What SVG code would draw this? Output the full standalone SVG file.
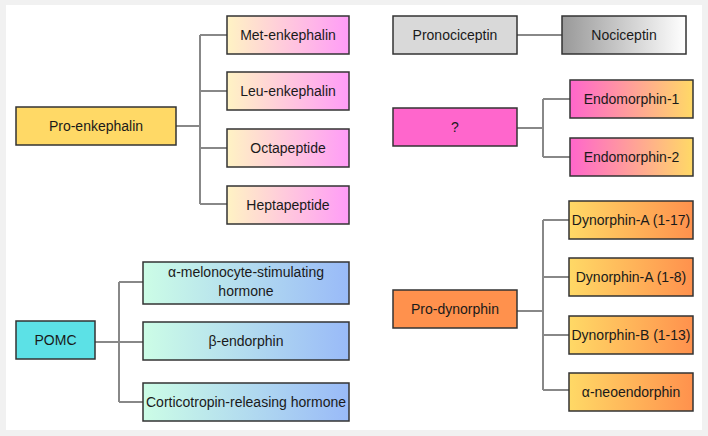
<svg xmlns="http://www.w3.org/2000/svg" width="708" height="436" viewBox="0 0 708 436">
<defs>
<linearGradient id="gEnk" x1="0" y1="0" x2="1" y2="0"><stop offset="0" stop-color="#fff3c4"/><stop offset="1" stop-color="#ff9cf7"/></linearGradient>
<linearGradient id="gNoc" x1="0" y1="0" x2="1" y2="0"><stop offset="0" stop-color="#999999"/><stop offset="1" stop-color="#ffffff"/></linearGradient>
<linearGradient id="gEndo" x1="0" y1="0" x2="1" y2="0"><stop offset="0" stop-color="#ff66cc"/><stop offset="1" stop-color="#ffd966"/></linearGradient>
<linearGradient id="gDyn" x1="0" y1="0" x2="1" y2="0"><stop offset="0" stop-color="#ffd966"/><stop offset="1" stop-color="#ff914d"/></linearGradient>
<linearGradient id="gPomc" x1="0" y1="0" x2="1" y2="0"><stop offset="0" stop-color="#ccfde6"/><stop offset="1" stop-color="#99baf8"/></linearGradient>
</defs>
<style>
.box{stroke:#333333;stroke-width:1.5}
.t{font-family:"Liberation Sans",Arial,sans-serif;font-size:14px;fill:#1a1a1a;text-anchor:middle;dominant-baseline:central}
.c{fill:none;stroke:#888888;stroke-width:2}
</style>
<rect x="0" y="0" width="708" height="436" fill="#f1f1f1"/>
<rect x="6" y="5" width="696" height="425" fill="#ffffff"/>
<g id="connectors">
<path class="c" d="M176 126H200M200 35V204M200 35H227M200 91H227M200 148H227M200 204H227"/>
<path class="c" d="M517 35H562"/>
<path class="c" d="M517 128H543M543 99V157M543 99H570M543 157H570"/>
<path class="c" d="M95 342H143M119 282V402M119 282H143M119 402H143"/>
<path class="c" d="M517 311H543M543 220V390M543 220H569M543 277H569M543 335H569M543 390H569"/>
</g>
<g id="pro-enkephalin"><rect class="box" x="16" y="107" width="160" height="38" fill="#ffd966"/><text class="t" x="96" y="126">Pro-enkephalin</text></g>
<g id="met-enkephalin"><rect class="box" x="227" y="16" width="122" height="38" fill="url(#gEnk)"/><text class="t" x="288" y="35">Met-enkephalin</text></g>
<g id="leu-enkephalin"><rect class="box" x="227" y="72" width="122" height="38" fill="url(#gEnk)"/><text class="t" x="288" y="91">Leu-enkephalin</text></g>
<g id="octapeptide"><rect class="box" x="227" y="129" width="122" height="38" fill="url(#gEnk)"/><text class="t" x="288" y="148">Octapeptide</text></g>
<g id="heptapeptide"><rect class="box" x="227" y="186" width="122" height="38" fill="url(#gEnk)"/><text class="t" x="288" y="205">Heptapeptide</text></g>
<g id="pronociceptin"><rect class="box" x="393" y="16" width="124" height="38" fill="#d9d9d9"/><text class="t" x="455" y="35">Pronociceptin</text></g>
<g id="nociceptin"><rect class="box" x="562" y="16" width="124" height="38" fill="url(#gNoc)"/><text class="t" x="624" y="35">Nociceptin</text></g>
<g id="unknown"><rect class="box" x="393" y="108" width="124" height="38" fill="#ff66cc"/><text class="t" x="455" y="127">?</text></g>
<g id="endomorphin-1"><rect class="box" x="570" y="80" width="123" height="38" fill="url(#gEndo)"/><text class="t" x="631.5" y="99">Endomorphin-1</text></g>
<g id="endomorphin-2"><rect class="box" x="570" y="138" width="123" height="38" fill="url(#gEndo)"/><text class="t" x="631.5" y="157">Endomorphin-2</text></g>
<g id="pomc"><rect class="box" x="16" y="321" width="79" height="38" fill="#5ce1e6"/><text class="t" x="55.5" y="340">POMC</text></g>
<g id="msh"><rect class="box" x="143" y="262" width="206" height="42" fill="url(#gPomc)"/><text class="t" x="246" y="272">α-melonocyte-stimulating</text><text class="t" x="246" y="291">hormone</text></g>
<g id="beta-endorphin"><rect class="box" x="143" y="322" width="206" height="38" fill="url(#gPomc)"/><text class="t" x="246" y="341">β-endorphin</text></g>
<g id="crh"><rect class="box" x="143" y="383" width="206" height="38" fill="url(#gPomc)"/><text class="t" x="246" y="402">Corticotropin-releasing hormone</text></g>
<g id="pro-dynorphin"><rect class="box" x="393" y="290" width="124" height="38" fill="#ff914d"/><text class="t" x="455" y="309">Pro-dynorphin</text></g>
<g id="dyn-a-17"><rect class="box" x="569" y="201" width="124" height="38" fill="url(#gDyn)"/><text class="t" x="631" y="220">Dynorphin-A (1-17)</text></g>
<g id="dyn-a-8"><rect class="box" x="569" y="258" width="124" height="38" fill="url(#gDyn)"/><text class="t" x="631" y="277">Dynorphin-A (1-8)</text></g>
<g id="dyn-b"><rect class="box" x="569" y="316" width="124" height="38" fill="url(#gDyn)"/><text class="t" x="631" y="335">Dynorphin-B (1-13)</text></g>
<g id="neoendorphin"><rect class="box" x="569" y="373" width="124" height="38" fill="url(#gDyn)"/><text class="t" x="631" y="392">α-neoendorphin</text></g>
</svg>
